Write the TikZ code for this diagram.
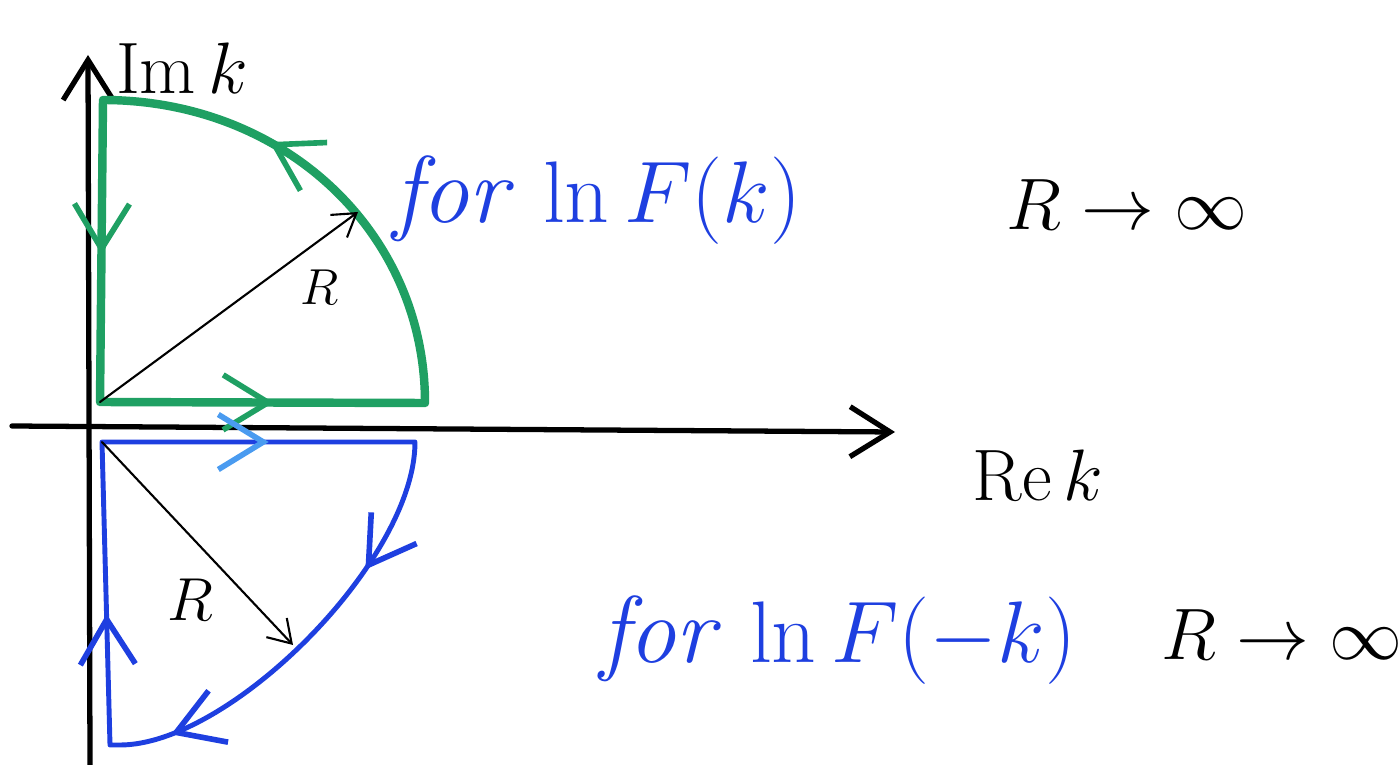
\documentclass[tikz,border=0pt]{standalone}
\usepackage{tikz}
\usetikzlibrary{arrows.meta,decorations.markings}
\definecolor{pengreen}{HTML}{1FA063}
\definecolor{penblue}{HTML}{1E3FE0}
\definecolor{smudge}{HTML}{4A9BF0}
\tikzset{
  lab/.style={font=\fontsize{22}{26}\selectfont},
  bluelab/.style={font=\fontsize{27}{30}\selectfont,text=penblue},
  axis/.style={line width=1.5pt,-{Straight Barb[length=4mm,width=5mm]}},
  radius/.style={line width=.6pt,-{Straight Barb[length=2.2mm,width=2.8mm]}},
  arrowat/.style args={#1/#2}{postaction={decorate,decoration={markings,
    mark=at position #1 with {\arrow[#2,line width=1.6pt]{Straight Barb[length=4.5mm,width=5.5mm]}}}}}
}
\begin{document}
\begin{tikzpicture}[x=0.1mm,y={(0,-0.1mm)},line join=round,line cap=round]
\useasboundingbox (0,0) rectangle (1400,765);
% axes
\coordinate (xs) at (12,426);\coordinate (xe) at (895,432);
\coordinate (ys) at (90,765);\coordinate (ye) at (88,55);
\draw[axis] (xs)--(xe);\draw[axis] (ys)--(ye);
\node[lab] (imk) at (182,68) {$\mathrm{Im}\,k$};
\node[lab] (rek) at (1038,475) {$\mathrm{Re}\,k$};
% contour for ln F(k)
\coordinate (g0) at (100,402);\coordinate (g1) at (425,403);\coordinate (g2) at (103,100);
\draw[pengreen,line width=2.4pt,arrowat=0.155/pengreen,arrowat=0.575/pengreen,arrowat=0.868/pengreen]
  (g0)--(g1)..controls (425,233) and (285,100)..(g2)--cycle;
\coordinate (gr) at (358,212);
\draw[radius] (g0)--(gr);
\node[font=\fontsize{14}{16}\selectfont] (rg) at (320,287) {$R$};
\node[bluelab] (lnk) at (597,200) {\textit{for} $\ln F(k)$};
\node[lab] (lim1) at (1127,205) {$R\to\infty$};
% contour for ln F(-k)
\coordinate (b0) at (102,442);\coordinate (b1) at (415,442);\coordinate (b2) at (120,745);\coordinate (b3) at (110,745);
\draw[penblue,line width=1.4pt,arrowat=0.155/smudge,arrowat=0.42/penblue,arrowat=0.66/penblue,arrowat=0.84/penblue]
  (b0)--(b1)..controls (415,560) and (230,745)..(b2)--(b3)--cycle;
\coordinate (br) at (293,645);
\draw[radius] (b0)--(br);
\node[font=\fontsize{18}{20}\selectfont] (rb) at (190,600) {$R$};
\node[bluelab] (lnmk) at (838,640) {\textit{for} $\ln F(-k)$};
\node[lab] (lim2) at (1282,635) {$R\to\infty$};
\end{tikzpicture}
\end{document}
